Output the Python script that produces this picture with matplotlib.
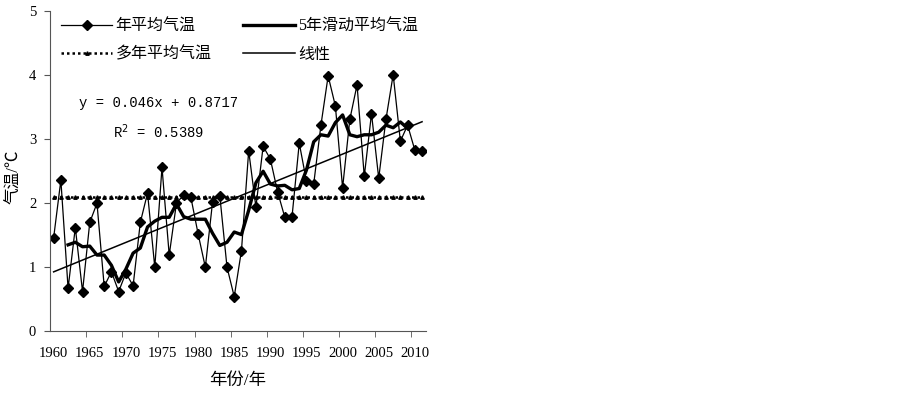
import matplotlib.pyplot as plt
import numpy as np

plt.rcParams['font.family'] = ['Liberation Serif', 'Noto Sans CJK SC']

# 年份与年平均气温
years = list(range(1960, 2012))
temp = [1.45, 2.35, 0.66, 1.61, 0.61, 1.69, 1.99, 0.69, 0.92, 0.61,
        0.90, 0.70, 1.69, 2.15, 0.99, 2.55, 1.18, 1.99, 2.12, 2.08,
        1.51, 0.99, 2.01, 2.11, 0.99, 0.53, 1.25, 2.81, 1.93, 2.88,
        2.68, 2.17, 1.77, 1.78, 2.93, 2.33, 2.29, 3.21, 3.98, 3.51,
        2.23, 3.30, 3.84, 2.41, 3.39, 2.38, 3.30, 4.00, 2.96, 3.21,
        2.82, 2.80]

# 5年滑动平均 (1962-2009)
ma_years = list(range(1962, 2010))
ma5 = [1.34, 1.38, 1.31, 1.32, 1.18, 1.18, 1.02, 0.76, 0.96, 1.21,
       1.29, 1.62, 1.71, 1.77, 1.77, 1.98, 1.78, 1.74, 1.74, 1.74,
       1.52, 1.33, 1.38, 1.54, 1.50, 1.88, 2.31, 2.49, 2.29, 2.26,
       2.27, 2.20, 2.22, 2.51, 2.95, 3.06, 3.04, 3.25, 3.37, 3.06,
       3.03, 3.06, 3.06, 3.10, 3.21, 3.17, 3.26, 3.16]

mean_temp = 2.09
slope, intercept = 0.046, 0.8717

fig = plt.figure(figsize=(9.03, 3.94), dpi=100)
ax = fig.add_axes([0.0554, 0.161, 0.416, 0.812])

l1, = ax.plot(years, temp, color='black', lw=0.9, marker='D', ms=5.5, label='年平均气温')
l2, = ax.plot(ma_years, ma5, color='black', lw=2.4, label='5年滑动平均气温')
l3, = ax.plot(years, [mean_temp] * len(years), color='black', lw=1.8, ls=(0, (1, 1.2)),
              marker='^', ms=2.5, label='多年平均气温')
idx = np.arange(1, len(years) + 1)
l4, = ax.plot(years, slope * idx + intercept, color='black', lw=1.1, label='线性')

mono = ['Liberation Mono']
ax.text(1974.5, 3.55, 'y = 0.046x + 0.8717', fontsize=10, ha='center', va='center',
        family=mono)
ax.text(1974.5, 3.11, 'R$^2$ = 0.5389', fontsize=10, ha='center', va='center',
        family=mono)

ax.set_xlim(1959.5, 2011.5)
ax.set_ylim(0, 5)
ax.set_xticks(range(1960, 2011, 5))
ax.set_xticks(np.arange(1964.5, 2011, 5), minor=True)
ax.tick_params(axis='x', which='major', length=0, pad=12, labelsize=10.5)
ax.tick_params(axis='x', which='minor', length=4, color='#555555')
ax.tick_params(axis='y', length=4, color='#555555', labelsize=10.5, pad=6)
ax.set_yticks(range(0, 6))
for s in ['top', 'right']:
    ax.spines[s].set_visible(False)
for s in ['left', 'bottom']:
    ax.spines[s].set_color('#555555')

ax.set_xlabel('年份/年', fontsize=12.5, labelpad=9)
ax.set_ylabel('气温/℃', fontsize=12)
ax.yaxis.set_label_coords(-0.075, 0.48)

# 图例按行排列
ax.legend([l1, l3, l2, l4], ['年平均气温', '多年平均气温', '5年滑动平均气温', '线性'],
          loc='upper left', ncol=2, frameon=False, fontsize=11.5,
          handlelength=3.2, handletextpad=0.2, columnspacing=2.0,
          labelspacing=0.75, bbox_to_anchor=(0.0, 1.01), borderaxespad=0.3)

fig.savefig('out.png', dpi=100)
